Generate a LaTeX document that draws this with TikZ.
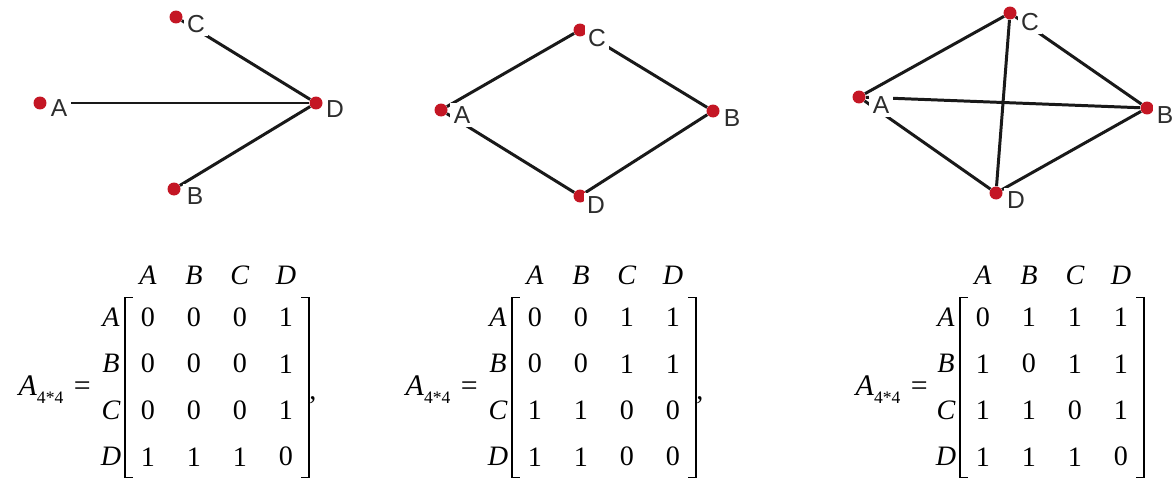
\documentclass[tikz,border=0pt]{standalone}
\usepackage{fontspec}
\setmainfont{Liberation Serif}
\setsansfont{Liberation Sans}
\usepackage{xcolor}
\usepackage{tikz}
\usetikzlibrary{matrix}
\definecolor{dotred}{RGB}{196,22,36}
\definecolor{labgray}{RGB}{45,45,45}

\begin{document}
\begin{tikzpicture}[x=0.02cm, y=-0.02cm,
        vertex/.style={circle, fill=dotred, inner sep=0pt, minimum size=0.26cm},
        vlabel/.style={font=\fontsize{14}{16}\selectfont\sffamily, text=labgray, fill=white, inner sep=2pt},
        link/.style={line width=1.7pt, black!90},
        adj/.style={matrix of nodes, inner sep=0pt, outer sep=0pt,
            nodes={minimum width=0.92cm, minimum height=0.93cm, inner sep=0pt, anchor=center},
            font=\fontsize{16}{19}\selectfont},
        brk/.style={line width=0.8pt},
        colhead/.style={font=\fontsize{16}{19}\selectfont, inner sep=0pt},
        eqn/.style={font=\fontsize{17}{20}\selectfont, inner sep=0pt, anchor=base east},
        punct/.style={font=\fontsize{16}{19}\selectfont, inner sep=0pt, anchor=base west}
    ]
    \useasboundingbox (0,0) rectangle (1173,480);

    % Graphe 1 : étoile autour de D
    \node[vertex] (A1) at (40,103) {};
    \node[vertex] (C1) at (176,17) {};
    \node[vertex] (D1) at (316,103) {};
    \node[vertex] (B1) at (174,189) {};
    \draw[link] (A1) -- (D1);
    \draw[link] (C1) -- (D1);
    \draw[link] (B1) -- (D1);
    \node[vlabel] (lA1) at (59,108) {A};
    \node[vlabel] (lC1) at (196,24) {C};
    \node[vlabel] (lD1) at (335,109) {D};
    \node[vlabel] (lB1) at (195,196) {B};

    % Graphe 2 : cycle A-C-B-D
    \node[vertex] (A2) at (441,110) {};
    \node[vertex] (C2) at (580,30) {};
    \node[vertex] (B2) at (713,111) {};
    \node[vertex] (D2) at (580,196) {};
    \draw[link] (A2) -- (C2);
    \draw[link] (C2) -- (B2);
    \draw[link] (B2) -- (D2);
    \draw[link] (D2) -- (A2);
    \node[vlabel] (lA2) at (462,115) {A};
    \node[vlabel] (lC2) at (597,38) {C};
    \node[vlabel] (lB2) at (732,118) {B};
    \node[vlabel] (lD2) at (596,205) {D};

    % Graphe 3 : presque complet
    \node[vertex] (A3) at (859,97) {};
    \node[vertex] (C3) at (1010,13) {};
    \node[vertex] (B3) at (1147,108) {};
    \node[vertex] (D3) at (996,193) {};
    \draw[link] (A3) -- (C3);
    \draw[link] (A3) -- (B3);
    \draw[link] (A3) -- (D3);
    \draw[link] (C3) -- (B3);
    \draw[link] (C3) -- (D3);
    \draw[link] (B3) -- (D3);
    \node[vlabel] (lA3) at (881,105) {A};
    \node[vlabel] (lC3) at (1030,22) {C};
    \node[vlabel] (lB3) at (1165,115) {B};
    \node[vlabel] (lD3) at (1016,200) {D};

    % Matrices d'adjacence
    \matrix[adj] (M1) at (217,387) {
        0 & 0 & 0 & 1 \\
        0 & 0 & 0 & 1 \\
        0 & 0 & 0 & 1 \\
        1 & 1 & 1 & 0 \\
    };
    \matrix[adj] (M2) at (604,387) {
        0 & 0 & 1 & 1 \\
        0 & 0 & 1 & 1 \\
        1 & 1 & 0 & 0 \\
        1 & 1 & 0 & 0 \\
    };
    \matrix[adj] (M3) at (1052,387) {
        0 & 1 & 1 & 1 \\
        1 & 0 & 1 & 1 \\
        1 & 1 & 0 & 1 \\
        1 & 1 & 1 & 0 \\
    };

    % Crochets, en-têtes de lignes et de colonnes
    \foreach \m in {M1,M2,M3} {
        \draw[brk] ([xshift=0.15cm, yshift=-0.07cm]\m.north west) -- ([yshift=-0.07cm]\m.north west)
            -- ([yshift=0.05cm]\m.south west) -- ++(0.15cm,0);
        \draw[brk] ([xshift=-0.15cm, yshift=-0.07cm]\m.north east) -- ([yshift=-0.07cm]\m.north east)
            -- ([yshift=0.05cm]\m.south east) -- ++(-0.15cm,0);
        \foreach \c [count=\j] in {A,B,C,D} {
            \node[colhead] (\m h\j) at ([yshift=0.84cm]\m-1-\j) {\textit{\c}};
            \node[colhead] (\m r\j) at ([xshift=-0.74cm]\m-\j-1) {\textit{\c}};
        }
    }

    % Membres de gauche et virgules
    \node[eqn] (E1) at (91,395) {\textit{A}\raisebox{-0.6ex}{\fontsize{10}{12}\selectfont 4*4}\hspace{0.35em}=};
    \node[eqn] (E2) at (478,395) {\textit{A}\raisebox{-0.6ex}{\fontsize{10}{12}\selectfont 4*4}\hspace{0.35em}=};
    \node[eqn] (E3) at (928,395) {\textit{A}\raisebox{-0.6ex}{\fontsize{10}{12}\selectfont 4*4}\hspace{0.35em}=};
    \node[punct] (K1) at (309,399) {,};
    \node[punct] (K2) at (696,399) {,};
\end{tikzpicture}
\end{document}
